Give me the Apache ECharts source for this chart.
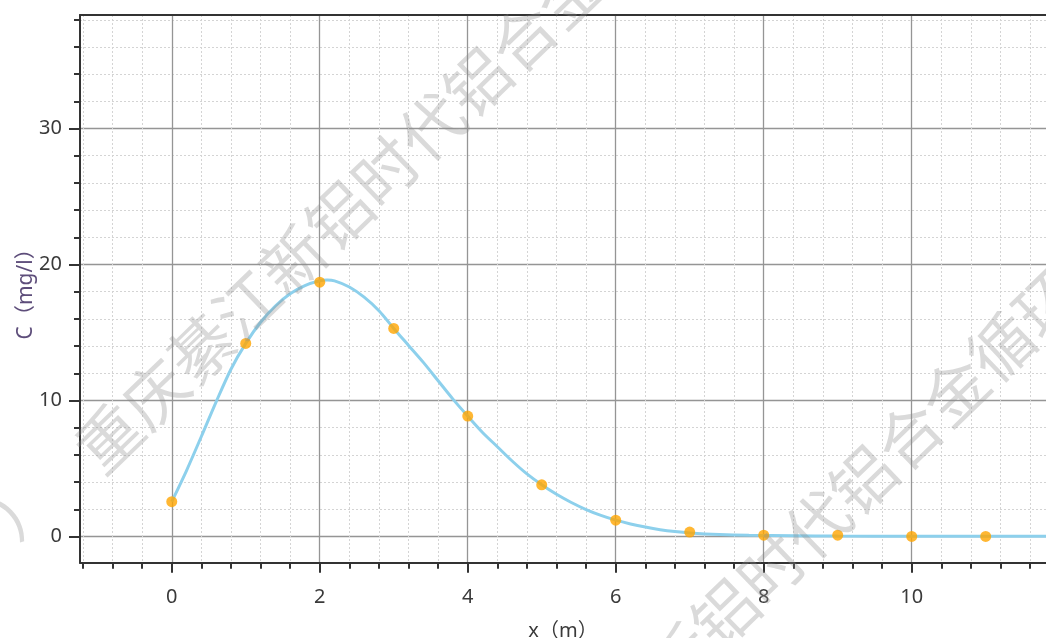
<!DOCTYPE html>
<html>
<head>
<meta charset="utf-8">
<script src="https://cdn.jsdelivr.net/npm/echarts@6/dist/echarts.min.js"></script>
<style>html,body{margin:0;padding:0;background:#fff}#c{width:1046px;height:638px}</style>
</head>
<body>
<div id="c"></div>
<script>
// ---- data ----
const curveX = [0, 0.2, 0.4, 0.6, 0.8, 1.0, 1.2, 1.4, 1.6, 1.8, 2.0, 2.1, 2.2, 2.4, 2.6, 2.8, 3.0, 3.2, 3.4, 3.6, 3.8, 4.0, 4.2, 4.4, 4.6, 4.8, 5.0, 5.2, 5.4, 5.6, 5.8, 6.0, 6.2, 6.4, 6.6, 6.8, 7.0, 7.4, 7.8, 8.4, 9, 10, 11, 11.82];
const curveC = [2.56, 4.85, 7.35, 9.9, 12.3, 14.2, 15.75, 16.95, 17.85, 18.45, 18.8, 18.86, 18.8, 18.35, 17.6, 16.6, 15.3, 14.05, 12.8, 11.45, 10.1, 8.85, 7.65, 6.6, 5.55, 4.6, 3.8, 3.1, 2.5, 1.98, 1.55, 1.2, 0.92, 0.69, 0.5, 0.36, 0.26, 0.14, 0.08, 0.05, 0.03, 0.02, 0.01, 0.01];
const pointX = [0, 1, 2, 3, 4, 5, 6, 7, 8, 9, 10, 11];
const pointC = [2.56, 14.2, 18.7, 15.3, 8.85, 3.8, 1.2, 0.32, 0.09, 0.09, 0, 0];
const xMajorTicks = [0, 2, 4, 6, 8, 10];
const xMinorTicks = [-1.2, -0.8, -0.4, 0, 0.4, 0.8, 1.2, 1.6, 2, 2.4, 2.8, 3.2, 3.6, 4, 4.4, 4.8, 5.2, 5.6, 6, 6.4, 6.8, 7.2, 7.6, 8, 8.4, 8.8, 9.2, 9.6, 10, 10.4, 10.8, 11.2, 11.6];
const yMajorTicks = [0, 10, 20, 30];
const yMinorTicks = [0, 2, 4, 6, 8, 10, 12, 14, 16, 18, 20, 22, 24, 26, 28, 30, 32, 34, 36, 38];
const xTitle = 'x（m）';
const yTitle = 'C（mg/l）';
const watermarkText = '重庆綦江新铝时代铝合金循环';
const watermarkTail = '）';

// ---- chart ----
const X_MIN = -1.24, X_MAX = 11.815;
const Y_MIN = -1.93, Y_MAX = 38.35;
const gridBox = {left: 80, right: 0, top: 15, bottom: 75.3, outerBoundsMode: 'none', containLabel: false};
const dark = '#333333';
const labelFont = '"Noto Sans", "Noto Sans CJK SC", sans-serif';

const chart = echarts.init(document.getElementById('c'), null, {renderer: 'canvas'});
const rot = 44 * Math.PI / 180;
const wmStyle = {
  fontSize: 64,
  fontFamily: '"Noto Sans CJK SC"',
  fill: 'rgba(140,140,140,0.32)',
  align: 'left',
  verticalAlign: 'middle'
};

chart.setOption({
  animation: false,
  backgroundColor: '#ffffff',
  grid: [
    Object.assign({}, gridBox),
    Object.assign({}, gridBox)
  ],
  xAxis: [
    { // minor
      gridIndex: 0, type: 'value', min: X_MIN, max: X_MAX, position: 'bottom',
      axisLine: {show: false, onZero: false},
      axisTick: {show: true, customValues: xMinorTicks, length: 6, lineStyle: {color: dark, width: 2}},
      axisLabel: {show: false},
      splitLine: {show: true, lineStyle: {color: '#d4d4d4', width: 1, type: [2, 2]}}
    },
    { // major
      gridIndex: 1, type: 'value', min: X_MIN, max: X_MAX, position: 'bottom',
      axisLine: {show: true, onZero: false, lineStyle: {color: dark, width: 2}},
      axisTick: {show: true, customValues: xMajorTicks, length: 10, lineStyle: {color: dark, width: 2}},
      axisLabel: {show: true, customValues: xMajorTicks, margin: 25, fontSize: 20, color: '#3a3a3a', fontFamily: labelFont},
      splitLine: {show: true, lineStyle: {color: '#959595', width: 1.3}},
      name: xTitle, nameLocation: 'middle', nameGap: 59, nameMoveOverlap: false,
      nameTextStyle: {fontSize: 20, color: '#3a3a3a', fontFamily: labelFont}
    },
    { // top border
      gridIndex: 1, type: 'value', min: X_MIN, max: X_MAX, position: 'top',
      axisLine: {show: true, onZero: false, lineStyle: {color: dark, width: 2}},
      axisTick: {show: false}, axisLabel: {show: false}, splitLine: {show: false}
    }
  ],
  yAxis: [
    { // minor
      gridIndex: 0, type: 'value', min: Y_MIN, max: Y_MAX, position: 'left',
      axisLine: {show: false, onZero: false},
      axisTick: {show: true, customValues: yMinorTicks, length: 6, lineStyle: {color: dark, width: 2}},
      axisLabel: {show: false},
      splitLine: {show: true, lineStyle: {color: '#d4d4d4', width: 1, type: [2, 2]}}
    },
    { // major
      gridIndex: 1, type: 'value', min: Y_MIN, max: Y_MAX, position: 'left',
      axisLine: {show: true, onZero: false, lineStyle: {color: dark, width: 2}},
      axisTick: {show: true, customValues: yMajorTicks, length: 11, lineStyle: {color: dark, width: 2}},
      axisLabel: {show: true, customValues: yMajorTicks, margin: 18, fontSize: 20, color: '#3a3a3a', fontFamily: labelFont},
      splitLine: {show: true, lineStyle: {color: '#959595', width: 1.3}},
      name: yTitle, nameLocation: 'middle', nameRotate: 90, nameGap: 43, nameMoveOverlap: false,
      nameTextStyle: {fontSize: 21, color: '#5d4d7a', fontFamily: labelFont}
    }
  ],
  series: [
    {
      type: 'line', xAxisIndex: 1, yAxisIndex: 1,
      data: curveX.map((x, i) => [x, curveC[i]]),
      smooth: 0.3, showSymbol: false, symbol: 'none',
      lineStyle: {color: '#8dd0ec', width: 3},
      z: 3
    },
    {
      type: 'scatter', xAxisIndex: 1, yAxisIndex: 1,
      data: pointX.map((x, i) => [x, pointC[i]]),
      symbol: 'circle', symbolSize: 11,
      itemStyle: {color: '#ffa500'},
      z: 4
    }
  ],
  graphic: [
    {type: 'text', silent: true, z: 100, x: 86, y: 460, rotation: rot, style: Object.assign({text: watermarkText}, wmStyle)},
    {type: 'text', silent: true, z: 100, x: 656, y: 680, rotation: rot, style: Object.assign({text: watermarkText.slice(4)}, wmStyle)},
    {type: 'text', silent: true, z: 100, x: -2, y: 524, rotation: rot, style: Object.assign({text: watermarkTail}, wmStyle)}
  ]
});
</script>
</body>
</html>
